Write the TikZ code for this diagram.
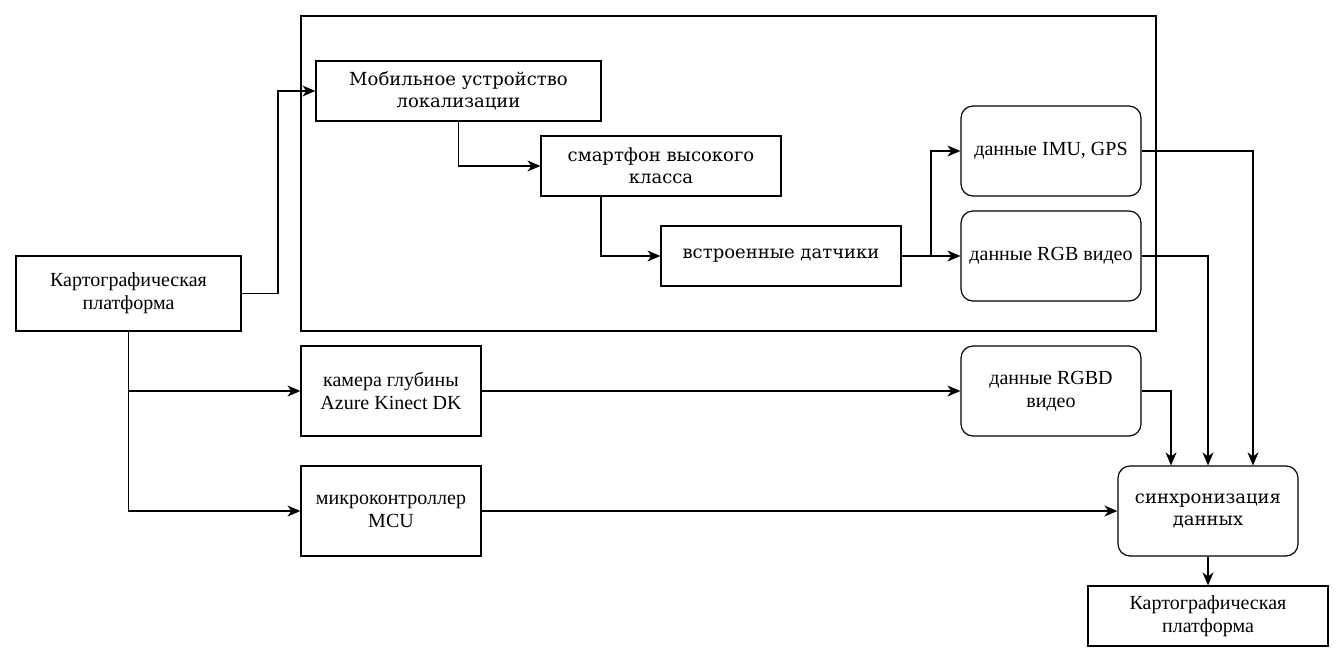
\documentclass[tikz,border=0pt]{standalone}
\usepackage{fontspec}
\setmainfont{Liberation Serif}
\newfontfamily\dvs{DejaVu Serif}
\usetikzlibrary{arrows.meta,positioning}
\begin{document}
\begin{tikzpicture}[x=1pt,y=-1pt,
  box/.style={draw,line width=1.2pt,inner sep=0pt,align=center,font=\fontsize{20}{23}\selectfont},
  dbox/.style={box,font=\dvs\fontsize{18}{22}\selectfont},
  rbox/.style={box,rounded corners=12pt},
  conn/.style={line width=1.2pt,-{Stealth[length=13pt,width=11pt,inset=4pt]}}]
\useasboundingbox (0,0) rectangle (1344,662);
\node[draw,line width=1.2pt,minimum width=855pt,minimum height=315pt,inner sep=0pt] (outer) at (728.5,173.5) {};
\node[dbox,minimum width=285pt,minimum height=60pt] (mob) at (458.5,91) {Мобильное устройство\\локализации};
\node[dbox,minimum width=240pt,minimum height=60pt] (sm) at (661,166) {смартфон высокого\\класса};
\node[dbox,minimum width=240pt,minimum height=60pt] (sens) at (781,256) {встроенные датчики};
\node[rbox,minimum width=180pt,minimum height=90pt] (imu) at (1051,151) {данные IMU, GPS};
\node[rbox,minimum width=180pt,minimum height=90pt] (rgb) at (1051,256) {данные RGB видео};
\node[box,minimum width=225pt,minimum height=75pt] (kl) at (128.5,293.5) {Картографическая\\платформа};
\node[box,minimum width=180pt,minimum height=90pt] (cam) at (391,391) {камера глубины\\Azure Kinect DK};
\node[rbox,minimum width=180pt,minimum height=90pt] (rgbd) at (1051,391) {данные RGBD\\видео};
\node[box,minimum width=180pt,minimum height=90pt] (mcu) at (391,511) {микроконтроллер\\MCU};
\node[rbox,font=\dvs\fontsize{18}{22}\selectfont,minimum width=180pt,minimum height=90pt] (sync) at (1208,511) {синхронизация\\данных};
\node[box,minimum width=240pt,minimum height=60pt] (kb) at (1208,616) {Картографическая\\платформа};
\coordinate (j1) at (278,293.5);
\coordinate (j2) at (931,256);
\draw[conn] (kl.east) -- (j1) |- (mob.west);
\draw[conn] (mob.south) |- (sm.west);
\draw[conn] (sm.south -| 601,0) |- (sens.west);
\draw[conn] (sens.east) -- (j2) |- (imu.west);
\draw[conn] (sens.east) -- (rgb.west);
\draw[conn] (kl.south) |- (cam.west);
\draw[conn] (kl.south) |- (mcu.west);
\draw[conn] (cam.east) -- (rgbd.west);
\draw[conn] (rgbd.east) -| (sync.north -| 1171,0);
\draw[conn] (rgb.east) -| (sync.north);
\draw[conn] (imu.east) -| (sync.north -| 1253,0);
\draw[conn] (mcu.east) -- (sync.west);
\draw[conn] (sync.south) -- (kb.north);
\end{tikzpicture}
\end{document}
